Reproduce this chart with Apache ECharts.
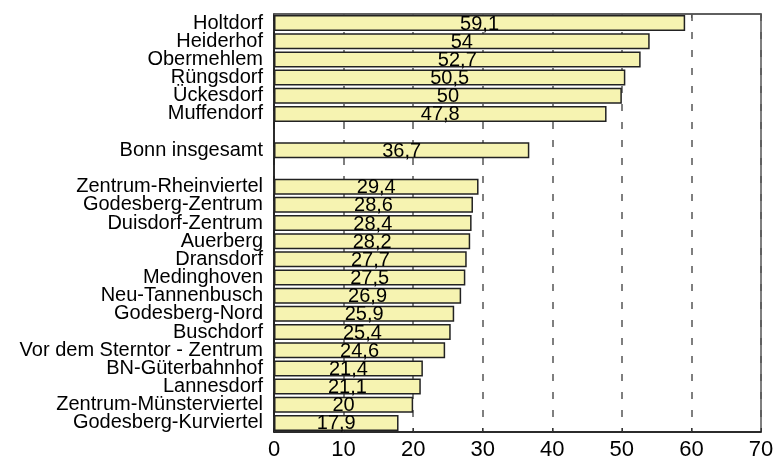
<!DOCTYPE html>
<html>
<head>
<meta charset="utf-8">
<style>
  html, body { margin: 0; padding: 0; background: #ffffff; }
  #chart { width: 774px; height: 461px; }
</style>
<script src="https://cdn.jsdelivr.net/npm/echarts@6/dist/echarts.min.js"></script>
</head>
<body>
<div id="chart"></div>
<script>
// District names, top to bottom; blank slots separate the three groups
const districts = [
  'Holtdorf', 'Heiderhof', 'Obermehlem', 'Rüngsdorf', 'Ückesdorf', 'Muffendorf',
  ' ',
  'Bonn insgesamt',
  '  ',
  'Zentrum-Rheinviertel', 'Godesberg-Zentrum', 'Duisdorf-Zentrum', 'Auerberg',
  'Dransdorf', 'Medinghoven', 'Neu-Tannenbusch', 'Godesberg-Nord', 'Buschdorf',
  'Vor dem Sterntor - Zentrum', 'BN-Güterbahnhof', 'Lannesdorf',
  'Zentrum-Münsterviertel', 'Godesberg-Kurviertel'
];

// Value per district (null for the blank separator slots)
const values = [
  59.1, 54, 52.7, 50.5, 50, 47.8,
  null,
  36.7,
  null,
  29.4, 28.6, 28.4, 28.2, 27.7, 27.5, 26.9, 25.9, 25.4, 24.6, 21.4, 21.1, 20, 17.9
];

// Value-axis ticks
const xTicks = [0, 10, 20, 30, 40, 50, 60, 70];

const fontFamily = 'Liberation Sans, Arial, Helvetica, sans-serif';
const chart = echarts.init(document.getElementById('chart'), null, { renderer: 'canvas' });

chart.setOption({
  animation: false,
  backgroundColor: '#ffffff',
  grid: {
    left: 274, right: 13, top: 14, bottom: 29,
    containLabel: false,
    outerBoundsMode: 'none',
    show: true,
    borderColor: '#555555',
    borderWidth: 1.5,
    backgroundColor: 'transparent'
  },
  xAxis: [
    {
      type: 'value',
      position: 'bottom',
      min: xTicks[0],
      max: xTicks[xTicks.length - 1],
      interval: xTicks[1] - xTicks[0],
      axisLine: { show: true, lineStyle: { color: '#111111', width: 1.5 } },
      axisTick: { show: true, inside: true, length: 4, lineStyle: { color: '#333333', width: 1 } },
      axisLabel: {
        color: '#000000', fontSize: 22, fontFamily: fontFamily, margin: 7,
        showMinLabel: true, showMaxLabel: true
      },
      splitLine: {
        show: true,
        lineStyle: { color: '#555555', width: 1.5, type: [7, 11] }
      }
    },
    {
      type: 'value',
      position: 'top',
      min: xTicks[0],
      max: xTicks[xTicks.length - 1],
      interval: xTicks[1] - xTicks[0],
      axisLine: { show: true, lineStyle: { color: '#555555', width: 1.5 } },
      axisTick: { show: true, inside: true, length: 4, lineStyle: { color: '#555555', width: 1 } },
      axisLabel: { show: false },
      splitLine: { show: false }
    }
  ],
  yAxis: {
    type: 'category',
    data: districts,
    inverse: true,
    axisLine: { show: true, lineStyle: { color: '#111111', width: 1.5 } },
    axisTick: { show: false },
    axisLabel: {
      color: '#000000', fontSize: 20, fontFamily: fontFamily, margin: 11,
      interval: 0
    },
    splitLine: { show: false }
  },
  series: [
    {
      type: 'bar',
      xAxisIndex: 0,
      data: values,
      barCategoryGap: '12%',
      itemStyle: {
        color: '#f6f3b1',
        borderColor: '#222222',
        borderWidth: 1.5
      },
      label: {
        show: true,
        position: 'inside',
        offset: [0, 1],
        color: '#000000',
        fontSize: 20,
        fontFamily: fontFamily,
        formatter: p => String(p.value).replace('.', ',')
      }
    }
  ]
});
</script>
</body>
</html>
